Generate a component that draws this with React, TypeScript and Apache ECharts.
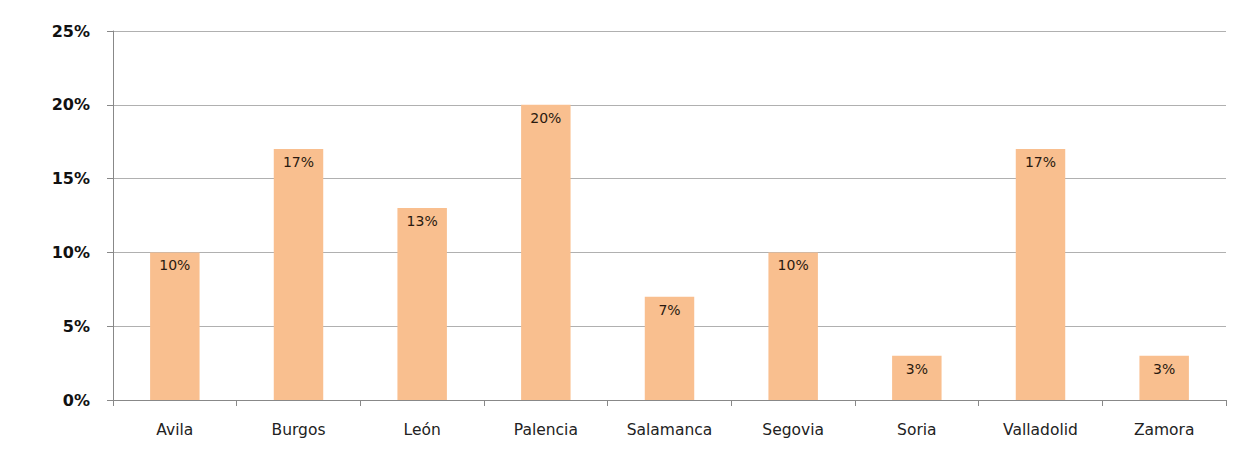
import React, { useEffect, useRef } from "react";
import * as echarts from "echarts";

const categories = ["Avila", "Burgos", "León", "Palencia", "Salamanca", "Segovia", "Soria", "Valladolid", "Zamora"];
const values = [10, 17, 13, 20, 7, 10, 3, 17, 3];
const yTicks = [0, 5, 10, 15, 20, 25];

export default function App() {
  const ref = useRef<HTMLDivElement>(null);
  useEffect(() => {
    if (!ref.current) return;
    const chart = echarts.init(ref.current, undefined, { renderer: "svg" });
    chart.setOption({
      animation: false,
      backgroundColor: "#ffffff",
      grid: { left: 113, right: 30, top: 31, bottom: 58 },
      xAxis: {
        type: "category",
        data: categories,
        axisLine: { lineStyle: { color: "#888888", width: 1 } },
        axisTick: { show: true, length: 6, lineStyle: { color: "#888888" }, alignWithLabel: false },
        axisLabel: {
          margin: 22,
          color: "#222222",
          fontFamily: "DejaVu Sans, Verdana, sans-serif",
          fontSize: 15.5,
        },
      },
      yAxis: {
        type: "value",
        min: yTicks[0],
        max: yTicks[yTicks.length - 1],
        interval: 5,
        axisLine: { show: true, lineStyle: { color: "#888888" } },
        axisTick: { show: true, length: 6, lineStyle: { color: "#888888" } },
        splitLine: { lineStyle: { color: "#b0b0b0", width: 1 } },
        axisLabel: {
          formatter: (v: number) => `${v}%`,
          margin: 23,
          color: "#111111",
          fontWeight: "bold",
          fontFamily: "DejaVu Sans, Verdana, sans-serif",
          fontSize: 16,
        },
      },
      series: [
        {
          type: "bar",
          data: values,
          barWidth: "40%",
          itemStyle: { color: "#f9bf8f" },
          label: {
            show: true,
            position: "insideTop",
            distance: 6,
            formatter: (p: any) => `${p.value}%`,
            color: "#2a1a10",
            fontFamily: "DejaVu Sans, Verdana, sans-serif",
            fontSize: 14,
          },
        },
      ],
    });
    return () => chart.dispose();
  }, []);
  return (
    <div
      ref={ref}
      style={{ position: "fixed", left: 0, top: 0, width: 1256, height: 458 }}
    />
  );
}
